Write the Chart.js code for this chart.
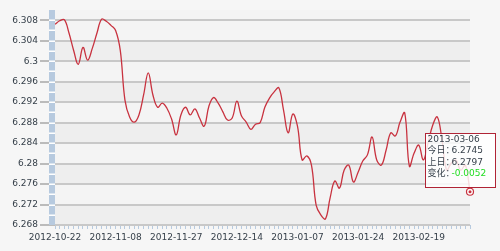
<!DOCTYPE html>
<html>
<head>
<meta charset="utf-8">
<script src="https://cdn.jsdelivr.net/npm/chart.js@4.4.1/dist/chart.umd.min.js"></script>
<style>
  html, body { margin: 0; padding: 0; background: #f6f6f6; }
  canvas { display: block; }
</style>
</head>
<body>
<canvas id="rate-chart" width="500" height="251"></canvas>
<script>
// trading days shown on the category axis
const dates = [
    '2012-10-22', '2012-10-23', '2012-10-24', '2012-10-25', '2012-10-26',
    '2012-10-29', '2012-10-30', '2012-10-31', '2012-11-01', '2012-11-02',
    '2012-11-05', '2012-11-06', '2012-11-07', '2012-11-08', '2012-11-09',
    '2012-11-12', '2012-11-13', '2012-11-14', '2012-11-15', '2012-11-16',
    '2012-11-19', '2012-11-20', '2012-11-21', '2012-11-22', '2012-11-23',
    '2012-11-26', '2012-11-27', '2012-11-28', '2012-11-29', '2012-11-30',
    '2012-12-03', '2012-12-04', '2012-12-05', '2012-12-06', '2012-12-07',
    '2012-12-10', '2012-12-11', '2012-12-12', '2012-12-13', '2012-12-14',
    '2012-12-17', '2012-12-18', '2012-12-19', '2012-12-20', '2012-12-21',
    '2012-12-24', '2012-12-25', '2012-12-26', '2012-12-27', '2012-12-28',
    '2012-12-31', '2013-01-04', '2013-01-07', '2013-01-08', '2013-01-09',
    '2013-01-10', '2013-01-11', '2013-01-14', '2013-01-15', '2013-01-16',
    '2013-01-17', '2013-01-18', '2013-01-21', '2013-01-22', '2013-01-23',
    '2013-01-24', '2013-01-25', '2013-01-28', '2013-01-29', '2013-01-30',
    '2013-01-31', '2013-02-01', '2013-02-04', '2013-02-05', '2013-02-06',
    '2013-02-07', '2013-02-08', '2013-02-18', '2013-02-19', '2013-02-20',
    '2013-02-21', '2013-02-22', '2013-02-25', '2013-02-26', '2013-02-27',
    '2013-02-28', '2013-03-01', '2013-03-04', '2013-03-05', '2013-03-06'
];

const rates = [
    6.3072, 6.3079, 6.3081, 6.3055, 6.3021, 6.2994, 6.3027, 6.3002, 6.3025, 6.3055,
    6.3082, 6.3078, 6.3070, 6.3060, 6.3021, 6.2924, 6.2891, 6.2881, 6.2895, 6.2934,
    6.2977, 6.2934, 6.2910, 6.2918, 6.2908, 6.2887, 6.2856, 6.2895, 6.2910, 6.2895,
    6.2907, 6.2889, 6.2873, 6.2912, 6.2929, 6.2918, 6.2901, 6.2885, 6.2889, 6.2922,
    6.2893, 6.2881, 6.2867, 6.2877, 6.2880, 6.2910, 6.2928, 6.2940, 6.2948, 6.2905,
    6.2860, 6.2897, 6.2873, 6.2807, 6.2815, 6.2797, 6.2719, 6.2700, 6.2692, 6.2733,
    6.2766, 6.2752, 6.2787, 6.2797, 6.2764, 6.2783, 6.2805, 6.2817, 6.2852, 6.2807,
    6.2797, 6.2826, 6.2860, 6.2854, 6.2881, 6.2899, 6.2795, 6.2820, 6.2836, 6.2807,
    6.2840, 6.2875, 6.2891, 6.2846, 6.2787, 6.2801, 6.2807, 6.2787, 6.2797, 6.2745
];

const xTickLabels = ['2012-10-22', '2012-11-08', '2012-11-27', '2012-12-14', '2013-01-07', '2013-01-24', '2013-02-19'];
const yTicks = [6.268, 6.272, 6.276, 6.28, 6.284, 6.288, 6.292, 6.296, 6.3, 6.304, 6.308];
const yMin = 6.268;
const yMax = 6.31;

const lineColor = '#c8323f';
const textColor = '#36404a';

Chart.defaults.font.family = '"DejaVu Sans", "Noto Sans CJK SC", sans-serif';
Chart.defaults.font.size = 9;

// alternating grey bands behind the plot
const plotBands = {
    id: 'plotBands',
    beforeDraw(chart) {
        const { ctx, chartArea: a, scales: { y } } = chart;
        ctx.save();
        ctx.fillStyle = '#f4f4f4';
        ctx.fillRect(a.left, a.top, a.right - a.left, a.bottom - a.top);
        ctx.fillStyle = '#eeeeee';
        for (let i = 1; i < yTicks.length; i += 2) {
            const top = y.getPixelForValue(yTicks[i]);
            const bottom = y.getPixelForValue(yTicks[i - 1]);
            ctx.fillRect(a.left, top, a.right - a.left, bottom - top);
        }
        ctx.restore();
    }
};

// segmented blue bar along the value axis
const axisBar = {
    id: 'axisBar',
    afterDraw(chart) {
        const { ctx, chartArea: a, scales: { y } } = chart;
        ctx.save();
        ctx.fillStyle = '#b7cadf';
        ctx.fillRect(a.left - 6, a.top, 6, a.bottom - a.top);
        ctx.fillStyle = '#ffffff';
        yTicks.forEach(t => {
            [t, t + 0.002].forEach(v => {
                const py = Math.round(y.getPixelForValue(v));
                if (py > a.top + 1 && py < a.bottom - 1) {
                    ctx.fillRect(a.left - 6, py - 0.5, 6, 1.5);
                }
            });
        });
        ctx.restore();
    }
};

// marker on the latest point and the info box
const lastPoint = {
    id: 'lastPoint',
    afterDraw(chart) {
        const ctx = chart.ctx;
        const n = rates.length - 1;
        const pt = chart.getDatasetMeta(0).data[n];
        ctx.save();

        const bx = Math.round(pt.x) - 44.5;
        const by = Math.round(pt.y) - 58.5;
        const bw = 70;
        const bh = 54;
        ctx.fillStyle = 'rgba(255,255,255,0.82)';
        ctx.fillRect(bx, by, bw, bh);
        ctx.strokeStyle = '#b02436';
        ctx.lineWidth = 1;
        ctx.strokeRect(bx, by, bw, bh);

        ctx.font = Chart.defaults.font.size + 'px ' + Chart.defaults.font.family;
        ctx.textBaseline = 'middle';
        ctx.textAlign = 'left';
        const tx = bx + 2;
        const vx = bx + 26;
        const row = k => by + 6 + k * 11.4;
        const change = rates[n] - rates[n - 1];

        ctx.fillStyle = textColor;
        ctx.fillText(dates[n], tx, row(0));
        ctx.fillText('今日：', tx, row(1));
        ctx.fillText(rates[n].toFixed(4), vx, row(1));
        ctx.fillText('上日：', tx, row(2));
        ctx.fillText(rates[n - 1].toFixed(4), vx, row(2));
        ctx.fillText('变化：', tx, row(3));
        ctx.fillStyle = change < 0 ? '#22dd22' : '#dd2222';
        ctx.fillText(change.toFixed(4), vx, row(3));

        ctx.beginPath();
        ctx.arc(pt.x, pt.y, 3.5, 0, Math.PI * 2);
        ctx.fillStyle = '#ffffff';
        ctx.fill();
        ctx.lineWidth = 1.2;
        ctx.strokeStyle = lineColor;
        ctx.stroke();
        ctx.beginPath();
        ctx.arc(pt.x, pt.y, 1.5, 0, Math.PI * 2);
        ctx.fillStyle = lineColor;
        ctx.fill();
        ctx.restore();
    }
};

const ctx = document.getElementById('rate-chart').getContext('2d');

new Chart(ctx, {
    type: 'line',
    data: {
        labels: dates,
        datasets: [{
            data: rates,
            borderColor: lineColor,
            borderWidth: 1.3,
            tension: 0.4,
            pointRadius: 0,
            fill: false
        }]
    },
    options: {
        responsive: false,
        animation: false,
        devicePixelRatio: 1,
        layout: { padding: { top: 10, right: 30, left: 0, bottom: 0 } },
        plugins: {
            legend: { display: false },
            tooltip: { enabled: false }
        },
        scales: {
            x: {
                offset: false,
                grid: {
                    drawOnChartArea: false,
                    drawTicks: true,
                    tickLength: 4,
                    tickColor: '#b7cadf',
                    lineWidth: 1
                },
                border: { display: false },
                ticks: {
                    autoSkip: false,
                    maxRotation: 0,
                    padding: 3,
                    color: textColor,
                    callback: (v, i) => xTickLabels.includes(dates[i]) ? dates[i] : ''
                },
                afterFit: s => { s.height = 26; }
            },
            y: {
                min: yMin,
                max: yMax,
                afterBuildTicks: s => { s.ticks = yTicks.map(v => ({ value: v })); },
                grid: {
                    color: '#c8c8c8',
                    lineWidth: 2,
                    tickLength: 15,
                    tickColor: '#bbbbbb'
                },
                border: { display: false },
                ticks: {
                    padding: 2,
                    color: textColor,
                    callback: v => String(parseFloat(v.toFixed(3)))
                },
                afterFit: s => { s.width = 55; }
            }
        }
    },
    plugins: [plotBands, axisBar, lastPoint]
});
</script>
</body>
</html>
